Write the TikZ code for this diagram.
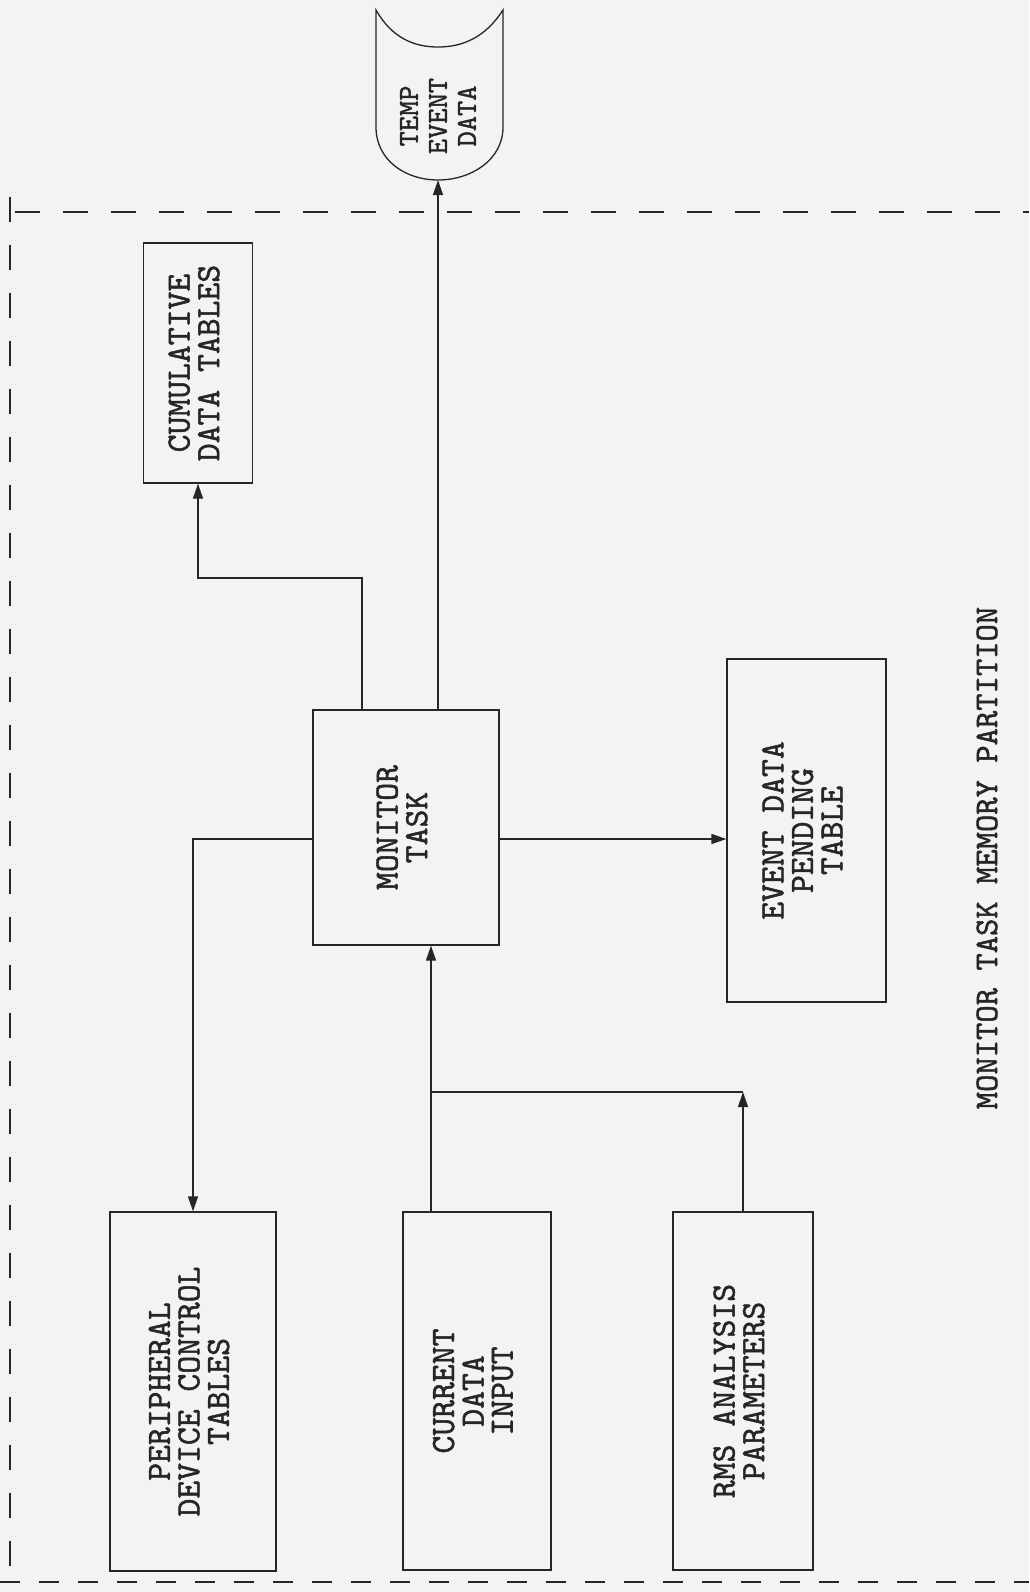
\documentclass[tikz,border=0pt]{standalone}
\usepackage{fontspec}
\setmonofont{lmmono10-regular.otf}[FakeBold=1.4]
\usetikzlibrary{arrows.meta,calc}
\definecolor{ink}{HTML}{262626}
\definecolor{paper}{HTML}{F3F3F1}
\newcommand{\rtext}[1]{\rotatebox{90}{\begin{tabular}{@{}c@{}}#1\end{tabular}}}
\begin{document}
\begin{tikzpicture}[x=1pt,y=-1pt,
  box/.style={draw=ink,line width=1.3pt,inner sep=0pt,anchor=center,font=\ttfamily\fontsize{34}{28}\selectfont,text=ink},
  lbl/.style={inner sep=0pt,font=\ttfamily\fontsize{33}{28}\selectfont,text=ink},
  arr/.style={draw=ink,line width=1.3pt,-{Triangle[length=15pt,width=10pt]}},
  ln/.style={draw=ink,line width=1.3pt},
  part/.style={draw=ink,line width=1.2pt,dash pattern=on 25pt off 23pt}]
\fill[paper] (0,0) rectangle (1029,1592);
\useasboundingbox (0,0) rectangle (1029,1592);
% nodes
\node[box,minimum width=109pt,minimum height=240pt] (cum) at (198,363) {\rtext{CUMULATIVE\\DATA TABLES}};
\node[box,minimum width=186pt,minimum height=235pt] (mon) at (406,827.5) {\rtext{MONITOR\\TASK}};
\node[box,minimum width=159pt,minimum height=343pt] (evt) at (806.5,830.5) {\rtext{EVENT DATA\\PENDING\\TABLE}};
\node[box,minimum width=166pt,minimum height=359pt] (pdc) at (193,1391.5) {\rtext{PERIPHERAL\\DEVICE CONTROL\\TABLES}};
\node[box,minimum width=148pt,minimum height=358pt] (cur) at (477,1391) {\rtext{CURRENT\\DATA\\INPUT}};
\node[box,minimum width=140pt,minimum height=358pt] (rms) at (743,1391) {\rtext{RMS ANALYSIS\\PARAMETERS}};
% temp event data storage shape
\draw[ln] (376,10) -- (376,127) .. controls (376,160) and (405,180) .. (438,180)
  .. controls (471,180) and (503,160) .. (503,127) -- (503,10)
  .. controls (485,38) and (462,47) .. (438,47)
  .. controls (414,47) and (392,38) .. (376,10) -- cycle;
\node[lbl,font=\ttfamily\fontsize{29}{29}\selectfont] (temp) at (441,116) {\rtext{TEMP\\EVENT\\DATA}};
\coordinate (tb) at (438,180);
% partition label
\node[lbl] (title) at (987,858) {\rotatebox{90}{MONITOR TASK MEMORY PARTITION}};
% partition boundary
\draw[part] (15,212) -- (1029,212);
\draw[part] (10,197) -- (10,1575);
\draw[draw=ink,line width=2.5pt,dash pattern=on 20pt off 19pt] (0,1582) -- (1029,1582);
% connectors
\coordinate (a1) at (362,578);
\draw[arr] (mon.north -| a1) -- (a1) -| (cum.south);
\draw[arr] (mon.north -| tb) -- (tb);
\coordinate (yl) at (0,839);
\draw[arr] (mon.west |- yl) -| (pdc.north);
\draw[arr] (mon.east |- yl) -- (evt.west |- yl);
\coordinate (cx) at (431,1092);
\draw[arr] (cur.north -| cx) -- (mon.south -| cx);
\draw[arr] (rms.north) -- (rms.north |- cx);
\draw[ln] (cx) -- (rms.north |- cx);
\end{tikzpicture}
\end{document}
